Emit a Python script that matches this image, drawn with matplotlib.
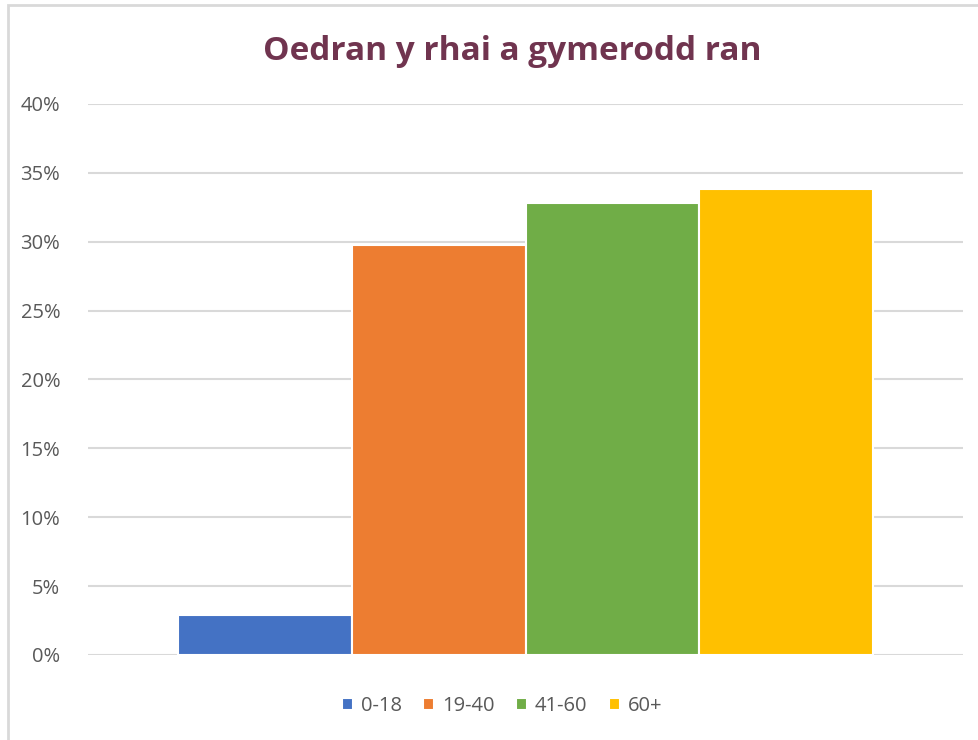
import matplotlib.pyplot as plt
from matplotlib.patches import Rectangle
from matplotlib.ticker import PercentFormatter

# data
categories = ["0-18", "19-40", "41-60", "60+"]
shares = [0.029, 0.298, 0.328, 0.338]
colours = ["#4472C4", "#ED7D31", "#70AD47", "#FFC000"]
yticks = [0, 0.05, 0.10, 0.15, 0.20, 0.25, 0.30, 0.35, 0.40]

plt.rcParams['font.family'] = ['Open Sans', 'DejaVu Sans']

fig = plt.figure(figsize=(9.79, 7.40), dpi=100)
ax = fig.add_axes([88/979, 1 - 655/740, 875/979, 551/740])

# chart frame like excel
fig.patches.append(Rectangle((8/979, -0.05), 1.2, 1 - 5/740 + 0.05, transform=fig.transFigure,
                             fill=False, edgecolor="#D9D9D9", linewidth=2))

for i, (cat, val, col) in enumerate(zip(categories, shares, colours)):
    ax.bar(i, val, width=1.0, color=col, edgecolor="white", linewidth=1.5, label=cat, zorder=3)

ax.set_xlim(-1.02, 4.02)
ax.set_ylim(0, 0.40)
ax.set_yticks(yticks)
ax.yaxis.set_major_formatter(PercentFormatter(1.0, decimals=0))
ax.set_xticks([])
ax.grid(axis="y", color="#D9D9D9", linewidth=1.5, zorder=0)
for s in ax.spines.values():
    s.set_visible(False)
ax.tick_params(axis="y", length=0, pad=20, labelsize=14.5, labelcolor="#595959")

fig.text(512/979, 1 - 51/740, "Oedran y rhai a gymerodd ran", ha="center", va="center",
         fontsize=24, fontweight="bold", color="#70344F")

fig.legend(loc="center", bbox_to_anchor=(502/979, 1 - 706/740), ncol=4, frameon=False,
           fontsize=14.5, labelcolor="#595959", handlelength=0.55, handleheight=0.55,
           handletextpad=0.4, columnspacing=1.05)

fig.savefig("out.png", dpi=100)
